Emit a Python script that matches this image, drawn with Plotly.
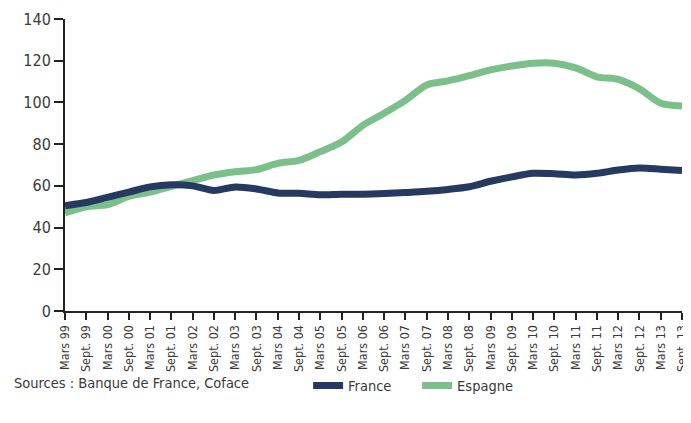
import plotly.graph_objects as go

# ========== Data ==========
periods = [
    "Mars 99", "Sept. 99", "Mars 00", "Sept. 00", "Mars 01", "Sept. 01",
    "Mars 02", "Sept. 02", "Mars 03", "Sept. 03", "Mars 04", "Sept. 04",
    "Mars 05", "Sept. 05", "Mars 06", "Sept. 06", "Mars 07", "Sept. 07",
    "Mars 08", "Sept. 08", "Mars 09", "Sept. 09", "Mars 10", "Sept. 10",
    "Mars 11", "Sept. 11", "Mars 12", "Sept. 12", "Mars 13", "Sept. 13",
]

france = [
    50.5, 52.0, 54.5, 57.0, 59.5, 60.5,
    60.0, 57.8, 59.5, 58.5, 56.6, 56.4,
    55.7, 56.0, 56.0, 56.3, 56.8, 57.4,
    58.3, 59.6, 62.2, 64.3, 66.0, 65.8,
    65.2, 66.0, 67.6, 68.6, 68.0, 67.3,
]

espagne = [
    47.0, 50.0, 51.0, 55.0, 57.0, 59.8,
    62.5, 65.2, 66.8, 67.8, 70.8, 72.2,
    76.4, 81.0, 89.0, 94.8, 101.0, 108.4,
    110.3, 112.8, 115.6, 117.5, 118.8, 118.8,
    116.6, 112.3, 111.0, 106.5, 99.6, 98.3,
]

FONT = "DejaVu Sans Condensed, Liberation Sans Narrow, sans-serif"
TEXT = "#3a3a3a"
AXIS = "#222222"

# ========== Figure ==========
fig = go.Figure()

# Espagne first so that France is drawn on top
fig.add_trace(go.Scatter(
    x=periods, y=espagne, name="Espagne", mode="lines",
    line=dict(color="#7bbf8b", width=7, shape="spline", smoothing=0.8),
))
fig.add_trace(go.Scatter(
    x=periods, y=france, name="France", mode="lines",
    line=dict(color="#253961", width=7, shape="spline", smoothing=0.8),
))

# the page body adds an 8px margin, so the figure is kept inside the window
fig.update_layout(
    width=683, height=407,
    paper_bgcolor="white", plot_bgcolor="white",
    margin=dict(l=57, r=9, t=11, b=104),
    font=dict(family=FONT, size=14.5, color=TEXT),
    legend=dict(
        orientation="h", traceorder="reversed",
        x=0.394, xanchor="left", y=-0.255, yanchor="middle",
        font=dict(family=FONT, size=14.5, color=TEXT),
        itemwidth=30, entrywidth=64, bgcolor="rgba(0,0,0,0)",
    ),
    annotations=[dict(
        text="Sources : Banque de France, Coface",
        xref="paper", yref="paper", x=-0.086, y=-0.247,
        xanchor="left", yanchor="middle", showarrow=False,
        font=dict(family=FONT, size=14.5, color=TEXT),
    )],
)

fig.update_xaxes(
    type="category", range=[0, len(periods) - 1],
    showgrid=False, zeroline=False, automargin=False,
    showline=True, linecolor=AXIS, linewidth=2,
    ticks="outside", ticklen=7, tickwidth=1.5, tickcolor=AXIS,
    tickangle=-90, tickfont=dict(family=FONT, size=12.5, color=TEXT),
)

fig.update_yaxes(
    range=[0, 140], dtick=20,
    showgrid=False, zeroline=False, automargin=False,
    showline=True, linecolor=AXIS, linewidth=2,
    ticks="outside", ticklen=9, tickwidth=1.5, tickcolor=AXIS,
    tickfont=dict(family=FONT, size=16, color=TEXT),
)

fig.write_html("out.html")
